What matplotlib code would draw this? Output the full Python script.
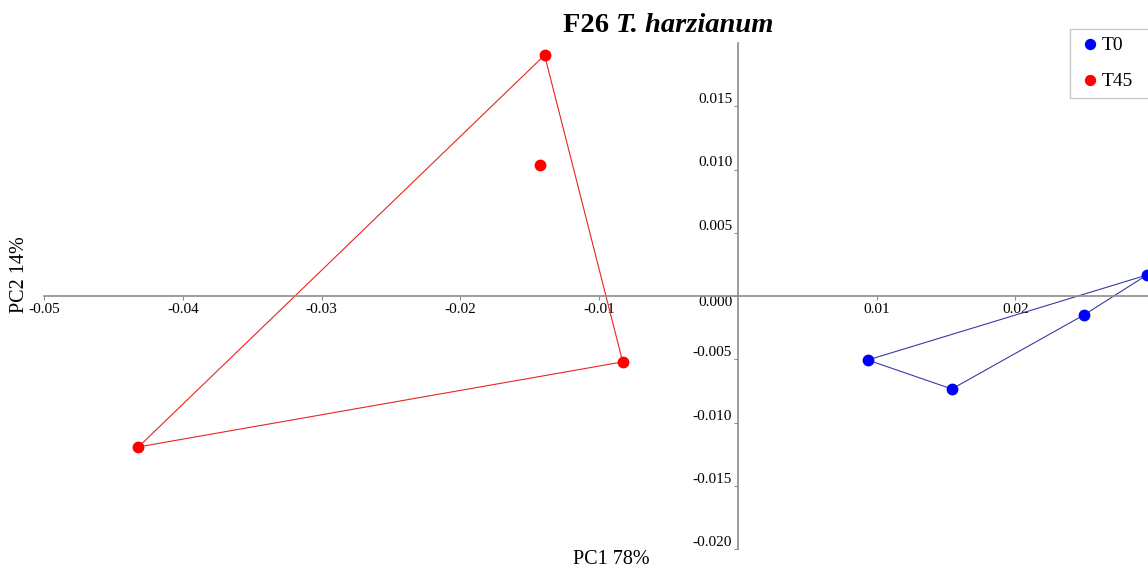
import numpy as np
import matplotlib
matplotlib.use("Agg")
import matplotlib.pyplot as plt

plt.rcParams['font.family'] = ['Liberation Serif', 'DejaVu Serif']
plt.rcParams['axes.unicode_minus'] = False

# PCA scores
t0_x = [0.00937, 0.01543, 0.02495, 0.02949]
t0_y = [-0.00506, -0.00735, -0.00150, 0.00166]
t45_x = [-0.01392, -0.01428, -0.00829, -0.04319]
t45_y = [0.01904, 0.01035, -0.00521, -0.01193]

# hull vertices (indices into the series above)
t0_hull = [0, 1, 2, 3, 0]
t45_hull = [0, 2, 3, 0]

x_ticks = [-0.05, -0.04, -0.03, -0.02, -0.01, 0.01, 0.02]
y_ticks = [-0.020, -0.015, -0.010, -0.005, 0.000, 0.005, 0.010, 0.015]

fig = plt.figure(figsize=(11.48, 5.72), dpi=100)
ax = fig.add_axes([44 / 1148, 1 - 549 / 572, 1110 / 1148, 506 / 572])

ax.plot(np.array(t45_x)[t45_hull], np.array(t45_y)[t45_hull],
        color='#e8251f', lw=0.8, zorder=2)
ax.plot(np.array(t0_x)[t0_hull], np.array(t0_y)[t0_hull],
        color='#3a3aa8', lw=0.8, zorder=2)
ax.plot(t0_x, t0_y, 'o', color='#0000ff', ms=7.5, label='T0', zorder=3)
ax.plot(t45_x, t45_y, 'o', color='#ff0000', ms=7.5, label='T45', zorder=3)

ax.set_xlim(-0.05, 0.03)
ax.set_ylim(-0.020, 0.020)

for side in ['top', 'right']:
    ax.spines[side].set_visible(False)
ax.spines['left'].set_position(('data', 0))
ax.spines['bottom'].set_position(('data', 0))
for side in ['left', 'bottom']:
    ax.spines[side].set_color('#8c8c8c')
    ax.spines[side].set_linewidth(1.2)

ax.set_xticks(x_ticks)
ax.set_xticklabels(['%.2f' % v for v in x_ticks])
ax.set_yticks(y_ticks)
ax.set_yticklabels(['%.3f' % v for v in y_ticks])
ax.tick_params(axis='x', length=3, width=0.8, color='#8c8c8c',
               labelsize=11, pad=2)
ax.tick_params(axis='y', length=3, width=0.8, color='#8c8c8c',
               labelsize=11, pad=1)
for lab, v in zip(ax.get_yticklabels(), y_ticks):
    lab.set_va('top' if v == 0 else 'bottom')

fig.text(616 / 1148, 1 - 25 / 572, 'F26 ', ha='right', va='center',
         fontsize=20.5, fontweight='bold')
fig.text(616 / 1148, 1 - 25 / 572, 'T. harzianum', ha='left', va='center',
         fontsize=20.5, fontweight='bold', style='italic')

fig.text(611 / 1148, 1 - 560 / 572, 'PC1 78%', ha='center', va='center',
         fontsize=14.5)
fig.text(20 / 1148, 1 - 275 / 572, 'PC2 14%', ha='center', va='center',
         rotation=90, fontsize=14.5)

leg = fig.legend(loc='upper left',
                 bbox_to_anchor=(1070 / 1148, 1 - 29 / 572, 100 / 1148, 0.0),
                 mode='expand', fontsize=14, frameon=True, fancybox=False,
                 shadow=False, handletextpad=0.0, handlelength=1.25,
                 borderpad=0.4, labelspacing=0.95, markerscale=0.95,
                 borderaxespad=0.0)
leg.get_frame().set_edgecolor('#bbbbbb')
leg.get_frame().set_linewidth(1.0)

fig.savefig('out.png', dpi=100)
